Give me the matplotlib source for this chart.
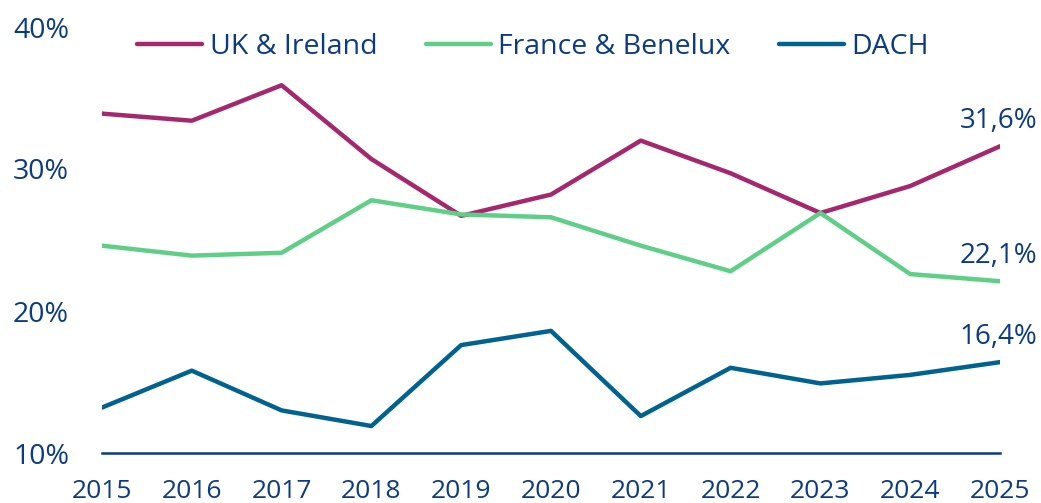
import matplotlib.pyplot as plt
from matplotlib.ticker import FuncFormatter

plt.rcParams['font.family'] = ['Open Sans', 'DejaVu Sans']

years = [2015, 2016, 2017, 2018, 2019, 2020, 2021, 2022, 2023, 2024, 2025]
uk_ireland = [33.9, 33.4, 35.9, 30.7, 26.7, 28.2, 32.0, 29.7, 26.9, 28.8, 31.6]
france_benelux = [24.6, 23.9, 24.1, 27.8, 26.8, 26.6, 24.6, 22.8, 26.9, 22.6, 22.1]
dach = [13.2, 15.8, 13.0, 11.9, 17.6, 18.6, 12.6, 16.0, 14.9, 15.5, 16.4]

series = [("UK & Ireland", uk_ireland, "#A5286E"),
          ("France & Benelux", france_benelux, "#5FCF87"),
          ("DACH", dach, "#00628F")]
text_color = "#0C3B85"

fig = plt.figure(figsize=(10.41, 5.03), dpi=100)
ax = fig.add_axes([102 / 1041, 1 - 453 / 503, 898 / 1041, 426 / 503])

for name, vals, col in series:
    ax.plot(years, vals, color=col, lw=3.2, label=name, solid_capstyle='round')
    # end-of-line value label
    ax.annotate(f"{vals[-1]:.1f}%".replace('.', ','), (years[-1], vals[-1]),
                xytext=(27, 18), textcoords='offset points', ha='right', va='center',
                fontsize=20, color=text_color, annotation_clip=False)

ax.set_xlim(2015, 2025)
ax.set_ylim(10, 40)
ax.set_xticks(years)
ax.set_yticks([10, 20, 30, 40])
ax.yaxis.set_major_formatter(FuncFormatter(lambda v, p: f"{v:.0f}%"))
for s in ['top', 'right', 'left']:
    ax.spines[s].set_visible(False)
ax.spines['bottom'].set_color(text_color)
ax.spines['bottom'].set_linewidth(1.8)
ax.tick_params(axis='both', length=0, labelsize=19, labelcolor=text_color)
ax.tick_params(axis='y', labelsize=20.5, pad=64)
ax.tick_params(axis='x', pad=19)
for lab in ax.get_yticklabels():
    lab.set_horizontalalignment('left')

fig.legend(loc='center', bbox_to_anchor=(533 / 1041, 1 - 47 / 503), ncol=3, frameon=False,
           fontsize=20.5, labelcolor=text_color, handlelength=2.3, handletextpad=0.25,
           columnspacing=1.7)

fig.savefig("out.png", dpi=100)
